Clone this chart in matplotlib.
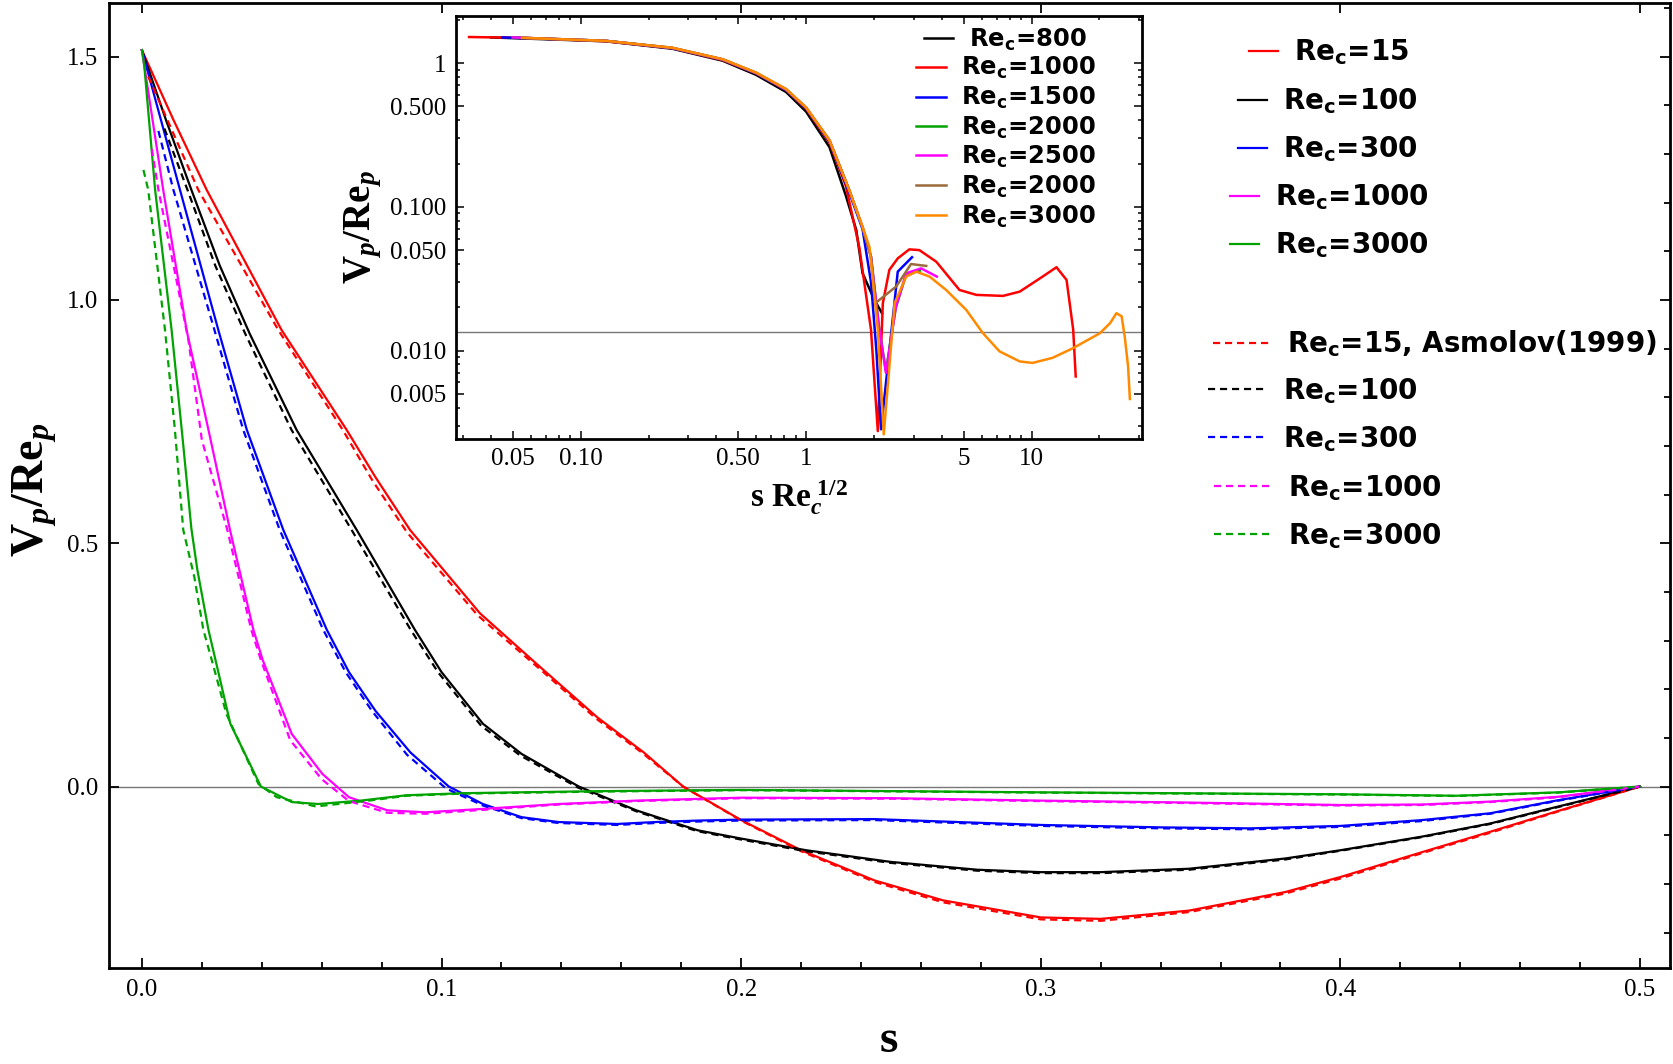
import matplotlib
matplotlib.use("Agg")
import matplotlib.pyplot as plt
from matplotlib.font_manager import FontProperties
from matplotlib.ticker import MultipleLocator, FixedLocator, FixedFormatter, LogLocator, NullFormatter

plt.rcParams['font.family'] = 'Liberation Serif'
plt.rcParams['mathtext.fontset'] = 'custom'
plt.rcParams['mathtext.rm'] = 'Liberation Serif'
plt.rcParams['mathtext.bf'] = 'Liberation Serif:bold'
plt.rcParams['mathtext.it'] = 'Liberation Serif:italic:bold'

# ---- main plot data (s, V_p/Re_p) ----
# solid lines: present results
s_15 = [0.0, 0.0105, 0.0216, 0.0466, 0.0683, 0.078, 0.0895, 0.1128, 0.133, 0.152, 0.1675, 0.1806, 0.2, 0.22,
        0.2445, 0.2674, 0.3, 0.32, 0.3495, 0.3815, 0.4, 0.4272, 0.45, 0.4728, 0.5]
v_15 = [1.513, 1.37, 1.226, 0.938, 0.733, 0.635, 0.527, 0.356, 0.245, 0.142, 0.07, 0.0, -0.069, -0.131,
        -0.193, -0.234, -0.269, -0.272, -0.255, -0.217, -0.186, -0.135, -0.093, -0.050, 0.0]
s_100 = [0.0, 0.008, 0.0165, 0.026, 0.036, 0.0516, 0.0717, 0.0911, 0.1, 0.1138, 0.1267, 0.1458, 0.165, 0.1855,
         0.2, 0.2217, 0.25, 0.2788, 0.3, 0.32, 0.3495, 0.3815, 0.4, 0.4272, 0.45, 0.4728, 0.5]
v_100 = [1.513, 1.37, 1.226, 1.07, 0.93, 0.733, 0.527, 0.322, 0.235, 0.129, 0.067, 0.0, -0.049, -0.09,
         -0.107, -0.131, -0.155, -0.171, -0.176, -0.176, -0.169, -0.148, -0.131, -0.103, -0.076, -0.041, 0.0]
s_300 = [0.0, 0.0127, 0.0255, 0.035, 0.0472, 0.0617, 0.0691, 0.078, 0.0896, 0.1024, 0.1138, 0.1267, 0.139,
         0.1586, 0.1714, 0.1855, 0.2, 0.2445, 0.3, 0.3404, 0.37, 0.4, 0.4272, 0.45, 0.4728, 0.5]
v_300 = [1.513, 1.226, 0.938, 0.733, 0.527, 0.322, 0.235, 0.155, 0.07, 0.0, -0.036, -0.063, -0.073,
         -0.077, -0.073, -0.070, -0.068, -0.067, -0.079, -0.084, -0.086, -0.081, -0.069, -0.055, -0.028, 0.0]
s_1000 = [0.0, 0.0071, 0.0149, 0.0222, 0.0294, 0.0372, 0.0403, 0.05, 0.0602, 0.0691, 0.0819, 0.0947, 0.1138,
          0.139, 0.165, 0.2, 0.25, 0.3, 0.3495, 0.4, 0.4272, 0.45, 0.4728, 0.5]
v_1000 = [1.513, 1.226, 0.938, 0.733, 0.527, 0.322, 0.26, 0.108, 0.026, -0.022, -0.049, -0.053, -0.046,
          -0.036, -0.029, -0.023, -0.024, -0.029, -0.033, -0.038, -0.037, -0.031, -0.021, 0.0]
s_3000 = [0.0, 0.0008, 0.0044, 0.0099, 0.0135, 0.0165, 0.0185, 0.0222, 0.0255, 0.0295, 0.0397, 0.05, 0.0589,
          0.073, 0.0883, 0.1075, 0.152, 0.2, 0.3, 0.4, 0.4386, 0.4728, 0.5]
v_3000 = [1.513, 1.48, 1.226, 0.938, 0.72, 0.53, 0.445, 0.322, 0.235, 0.129, 0.0, -0.032, -0.036, -0.029,
          -0.018, -0.0137, -0.0096, -0.007, -0.012, -0.016, -0.019, -0.012, 0.0]

# dashed lines: Asmolov (1999)
sa_15 = [0.0021, 0.0188, 0.0455, 0.067, 0.077, 0.0885, 0.112, 0.1325, 0.1515, 0.167, 0.1806, 0.2, 0.22,
         0.2445, 0.2674, 0.3, 0.32, 0.3495, 0.3815, 0.4, 0.4272, 0.45, 0.4728, 0.5]
va_15 = [1.459, 1.226, 0.938, 0.733, 0.628, 0.522, 0.352, 0.243, 0.14, 0.069, 0.0, -0.07, -0.133,
         -0.196, -0.238, -0.273, -0.276, -0.258, -0.22, -0.189, -0.137, -0.095, -0.051, 0.0]
sa_100 = [0.0075, 0.0152, 0.0245, 0.0345, 0.0499, 0.07, 0.0897, 0.0988, 0.1132, 0.1262, 0.1455, 0.165, 0.1855,
          0.2, 0.2217, 0.25, 0.2788, 0.3, 0.32, 0.3495, 0.3815, 0.4, 0.4272, 0.45, 0.4728, 0.5]
va_100 = [1.352, 1.226, 1.07, 0.93, 0.733, 0.527, 0.322, 0.235, 0.125, 0.064, -0.002, -0.051, -0.092,
          -0.109, -0.133, -0.157, -0.173, -0.178, -0.178, -0.171, -0.15, -0.132, -0.104, -0.077, -0.042, 0.0]
sa_300 = [0.0055, 0.0105, 0.0242, 0.0338, 0.046, 0.0605, 0.068, 0.0768, 0.0885, 0.1015, 0.1138, 0.1267, 0.139,
          0.1586, 0.1714, 0.1855, 0.2, 0.2445, 0.3, 0.3404, 0.37, 0.4, 0.4272, 0.45, 0.4728, 0.5]
va_300 = [1.347, 1.226, 0.938, 0.733, 0.527, 0.322, 0.235, 0.155, 0.065, -0.004, -0.039, -0.065, -0.075,
          -0.079, -0.075, -0.072, -0.07, -0.069, -0.081, -0.086, -0.088, -0.083, -0.071, -0.056, -0.029, 0.0]
sa_1000 = [0.0033, 0.0055, 0.0155, 0.02, 0.0285, 0.0365, 0.0397, 0.0495, 0.06, 0.0691, 0.0819, 0.0947, 0.1138,
           0.139, 0.165, 0.2, 0.25, 0.3, 0.3495, 0.4, 0.4272, 0.45, 0.4728, 0.5]
va_1000 = [1.31, 1.226, 0.918, 0.712, 0.527, 0.322, 0.26, 0.095, 0.015, -0.03, -0.054, -0.056, -0.048,
           -0.037, -0.03, -0.024, -0.025, -0.03, -0.034, -0.039, -0.038, -0.032, -0.022, 0.0]
sa_3000 = [0.0005, 0.0021, 0.0077, 0.011, 0.0138, 0.0175, 0.0205, 0.0233, 0.0282, 0.0389, 0.045, 0.058, 0.0758,
           0.0883, 0.1075, 0.152, 0.2, 0.3, 0.4, 0.4386, 0.4728, 0.5]
va_3000 = [1.267, 1.226, 0.938, 0.733, 0.527, 0.43, 0.322, 0.26, 0.149, 0.005, -0.022, -0.041, -0.029,
           -0.019, -0.0145, -0.0105, -0.0075, -0.0125, -0.0165, -0.0195, -0.0125, 0.0]

# ---- inset data (s Re_c^1/2, |V_p/Re_p|) ----
x_800 = [0.04, 0.129, 0.255, 0.426, 0.599, 0.815, 1.0, 1.27, 1.5, 1.67, 1.78, 2.01, 2.17]
y_800 = [1.51, 1.42, 1.26, 1.04, 0.83, 0.63, 0.46, 0.26, 0.12, 0.0688, 0.0345, 0.0225, 0.0182]
x_1000 = [0.032, 0.055, 0.129, 0.255, 0.426, 0.599, 0.815, 1.0, 1.27, 1.5, 1.72, 1.94, 2.08, 2.19, 2.34, 2.55,
          2.87, 3.18, 3.78, 4.79, 5.69, 7.47, 8.86, 10.9, 12.9, 14.3, 15.3, 15.7]
y_1000 = [1.52, 1.50, 1.42, 1.27, 1.05, 0.85, 0.65, 0.48, 0.28, 0.14, 0.0527, 0.014, 0.00275, 0.0214, 0.0364,
          0.0438, 0.0506, 0.050, 0.0415, 0.0264, 0.0244, 0.024, 0.0257, 0.0318, 0.038, 0.031, 0.014, 0.0066]
x_1500 = [0.045, 0.129, 0.255, 0.426, 0.599, 0.815, 1.0, 1.27, 1.556, 1.78, 1.94, 2.05, 2.15, 2.55, 2.95]
y_1500 = [1.51, 1.43, 1.27, 1.06, 0.85, 0.65, 0.485, 0.285, 0.125, 0.07, 0.03, 0.01, 0.00283, 0.0354, 0.0446]
x_2000 = [0.05, 0.129, 0.255, 0.426, 0.599, 0.815, 1.0, 1.27, 1.556, 1.78, 1.94, 2.1, 2.26, 2.5, 2.78, 3.2]
y_2000 = [1.51, 1.43, 1.275, 1.06, 0.855, 0.655, 0.49, 0.29, 0.13, 0.072, 0.045, 0.015, 0.0072, 0.02, 0.034, 0.036]
x_2500 = [0.05, 0.129, 0.255, 0.426, 0.599, 0.815, 1.0, 1.27, 1.556, 1.78, 1.94, 2.1, 2.26, 2.5, 2.78, 3.24, 3.80]
y_2500 = [1.51, 1.43, 1.275, 1.06, 0.855, 0.655, 0.49, 0.29, 0.13, 0.072, 0.045, 0.015, 0.0070, 0.02, 0.0345,
          0.0373, 0.0327]
x_2000b = [0.055, 0.129, 0.255, 0.426, 0.599, 0.815, 1.0, 1.27, 1.556, 1.78, 1.94, 2.03, 2.51, 2.92, 3.41]
y_2000b = [1.50, 1.43, 1.28, 1.065, 0.86, 0.66, 0.49, 0.29, 0.13, 0.072, 0.045, 0.0214, 0.0279, 0.040, 0.0388]
x_3000 = [0.055, 0.129, 0.255, 0.426, 0.599, 0.815, 1.0, 1.27, 1.556, 1.78, 1.91, 2.08, 2.21, 2.47, 2.78, 3.08,
          3.53, 4.18, 5.13, 6.09, 7.21, 8.86, 10.1, 12.4, 15.3, 20.1, 22.3, 23.8, 25.1, 25.9, 26.8, 27.3]
y_3000 = [1.50, 1.43, 1.28, 1.066, 0.861, 0.66, 0.492, 0.29, 0.130, 0.0726, 0.0527, 0.0140, 0.00261, 0.0214,
          0.0327, 0.0354, 0.0327, 0.0264, 0.0192, 0.0132, 0.00987, 0.0084, 0.0082, 0.0089, 0.0104, 0.0132,
          0.0155, 0.0182, 0.0173, 0.0125, 0.0078, 0.0046]
inset_ref = 0.0135

main_labels = ['15', '100', '300', '1000', '3000']
inset_labels = ['800', '1000', '1500', '2000', '2500', '2000', '3000']

GREEN = '#00a300'
BROWN = '#9c6b3c'
ORANGE = '#ff8a00'
colors = ['#ff0000', 'black', '#0000ff', '#ff00ff', GREEN]

fig = plt.figure(figsize=(16.74, 10.64), dpi=100)
ax = fig.add_axes([0.0651, 0.0902, 0.9325, 0.907])

ax.axhline(0, color='#777777', lw=1.0, zorder=1)
solid = []
dashed = []
for s, v, c in zip([s_15, s_100, s_300, s_1000, s_3000], [v_15, v_100, v_300, v_1000, v_3000], colors):
    l, = ax.plot(s, v, color=c, lw=1.6)
    solid.append(l)
for s, v, c in zip([sa_15, sa_100, sa_300, sa_1000, sa_3000], [va_15, va_100, va_300, va_1000, va_3000], colors):
    l, = ax.plot(s, v, color=c, lw=1.6, linestyle=(0, (3.2, 2.2)))
    dashed.append(l)

ax.set_xlim(-0.011, 0.51)
ax.set_ylim(-0.373, 1.61)
ax.set_xticks([0.0, 0.1, 0.2, 0.3, 0.4, 0.5])
ax.set_yticks([0.0, 0.5, 1.0, 1.5])
ax.xaxis.set_minor_locator(MultipleLocator(0.02))
ax.yaxis.set_minor_locator(MultipleLocator(0.1))
ax.tick_params(which='both', direction='in', top=True, right=True, labelsize=18, width=1.3)
ax.tick_params(which='major', length=7, pad=8)
ax.tick_params(which='minor', length=4, left=False, top=False)
for sp in ax.spines.values():
    sp.set_linewidth(2.0)

fig.text(0.531, 0.022, r'$\mathbf{s}$', fontsize=34, ha='center', va='center')
fig.text(0.021, 0.54, r'$\mathbf{V}_{p}\mathbf{/Re}_{p}$', fontsize=33, rotation=90, ha='center', va='center')


def key(h, label, x, y, prop, hl, pad):
    # one legend entry per row, placed like the original
    fig.legend([h], [label], loc='center left', bbox_to_anchor=(x, y), frameon=False, prop=prop,
               handlelength=hl, handletextpad=pad, borderpad=0, borderaxespad=0)


lp = FontProperties(family='DejaVu Sans', weight='bold', size=20, math_fontfamily='dejavusans')
solid_x = [0.7462, 0.7398, 0.7398, 0.7347, 0.7347]
solid_y = [0.9508, 0.9047, 0.8595, 0.8144, 0.7692]
for h, t, x, y in zip(solid, main_labels, solid_x, solid_y):
    key(h, 'Re$_\\mathbf{c}$=' + t, x, y, lp, 1.04, 0.58)

dl = ['Re$_\\mathbf{c}$=15, Asmolov(1999)'] + ['Re$_\\mathbf{c}$=' + t for t in main_labels[1:]]
dash_x = [0.7245, 0.7219, 0.7219, 0.7251, 0.7251]
dash_y = [0.6769, 0.6328, 0.5876, 0.5415, 0.4963]
for h, t, x, y in zip(dashed, dl, dash_x, dash_y):
    key(h, t, x, y, lp, 2.03, 0.65)

# ---- inset ----
ins = fig.add_axes([0.2722, 0.5878, 0.41, 0.3972])
ins.axhline(inset_ref, color='#777777', lw=1.0, zorder=1)
ic = ['black', '#ff0000', '#0000ff', GREEN, '#ff00ff', BROWN, ORANGE]
ix = [x_800, x_1000, x_1500, x_2000, x_2500, x_2000b, x_3000]
iy = [y_800, y_1000, y_1500, y_2000, y_2500, y_2000b, y_3000]
ilines = []
for x, y, c in zip(ix, iy, ic):
    l, = ins.plot(x, y, color=c, lw=1.8)
    ilines.append(l)
ins.set_xscale('log')
ins.set_yscale('log')
ins.set_xlim(0.0279, 30.9)
ins.set_ylim(0.00244, 2.13)
ins.xaxis.set_major_locator(FixedLocator([0.05, 0.1, 0.5, 1, 5, 10]))
ins.xaxis.set_major_formatter(FixedFormatter(['0.05', '0.10', '0.50', '1', '5', '10']))
ins.yaxis.set_major_locator(FixedLocator([0.005, 0.01, 0.05, 0.1, 0.5, 1]))
ins.yaxis.set_major_formatter(FixedFormatter(['0.005', '0.010', '0.050', '0.100', '0.500', '1']))
ins.xaxis.set_minor_locator(LogLocator(base=10, subs=range(1, 10), numticks=20))
ins.yaxis.set_minor_locator(LogLocator(base=10, subs=range(1, 10), numticks=20))
ins.xaxis.set_minor_formatter(NullFormatter())
ins.yaxis.set_minor_formatter(NullFormatter())
ins.tick_params(which='both', direction='in', top=True, right=True, labelsize=18, width=1.1)
ins.tick_params(which='major', length=6, pad=7)
ins.tick_params(which='minor', length=3)
for sp in ins.spines.values():
    sp.set_linewidth(2.0)
ins.set_xlabel(r'$\mathbf{s\ Re}_{c}^{\ \mathbf{1/2}}$', fontsize=24, labelpad=6)
ins.set_ylabel(r'$\mathbf{V}_{p}\mathbf{/Re}_{p}$', fontsize=28, labelpad=4)

ip = FontProperties(family='DejaVu Sans', weight='bold', size=17.5, math_fontfamily='dejavusans')
inset_x = [0.5517, 0.5472, 0.5472, 0.5472, 0.5472, 0.5472, 0.5472]
inset_y = [0.9629, 0.9358, 0.9077, 0.8796, 0.8525, 0.8244, 0.7963]
for h, t, x, y in zip(ilines, inset_labels, inset_x, inset_y):
    key(h, 'Re$_\\mathbf{c}$=' + t, x, y, ip, 1.23, 0.62)

fig.savefig('out.png', dpi=100)
